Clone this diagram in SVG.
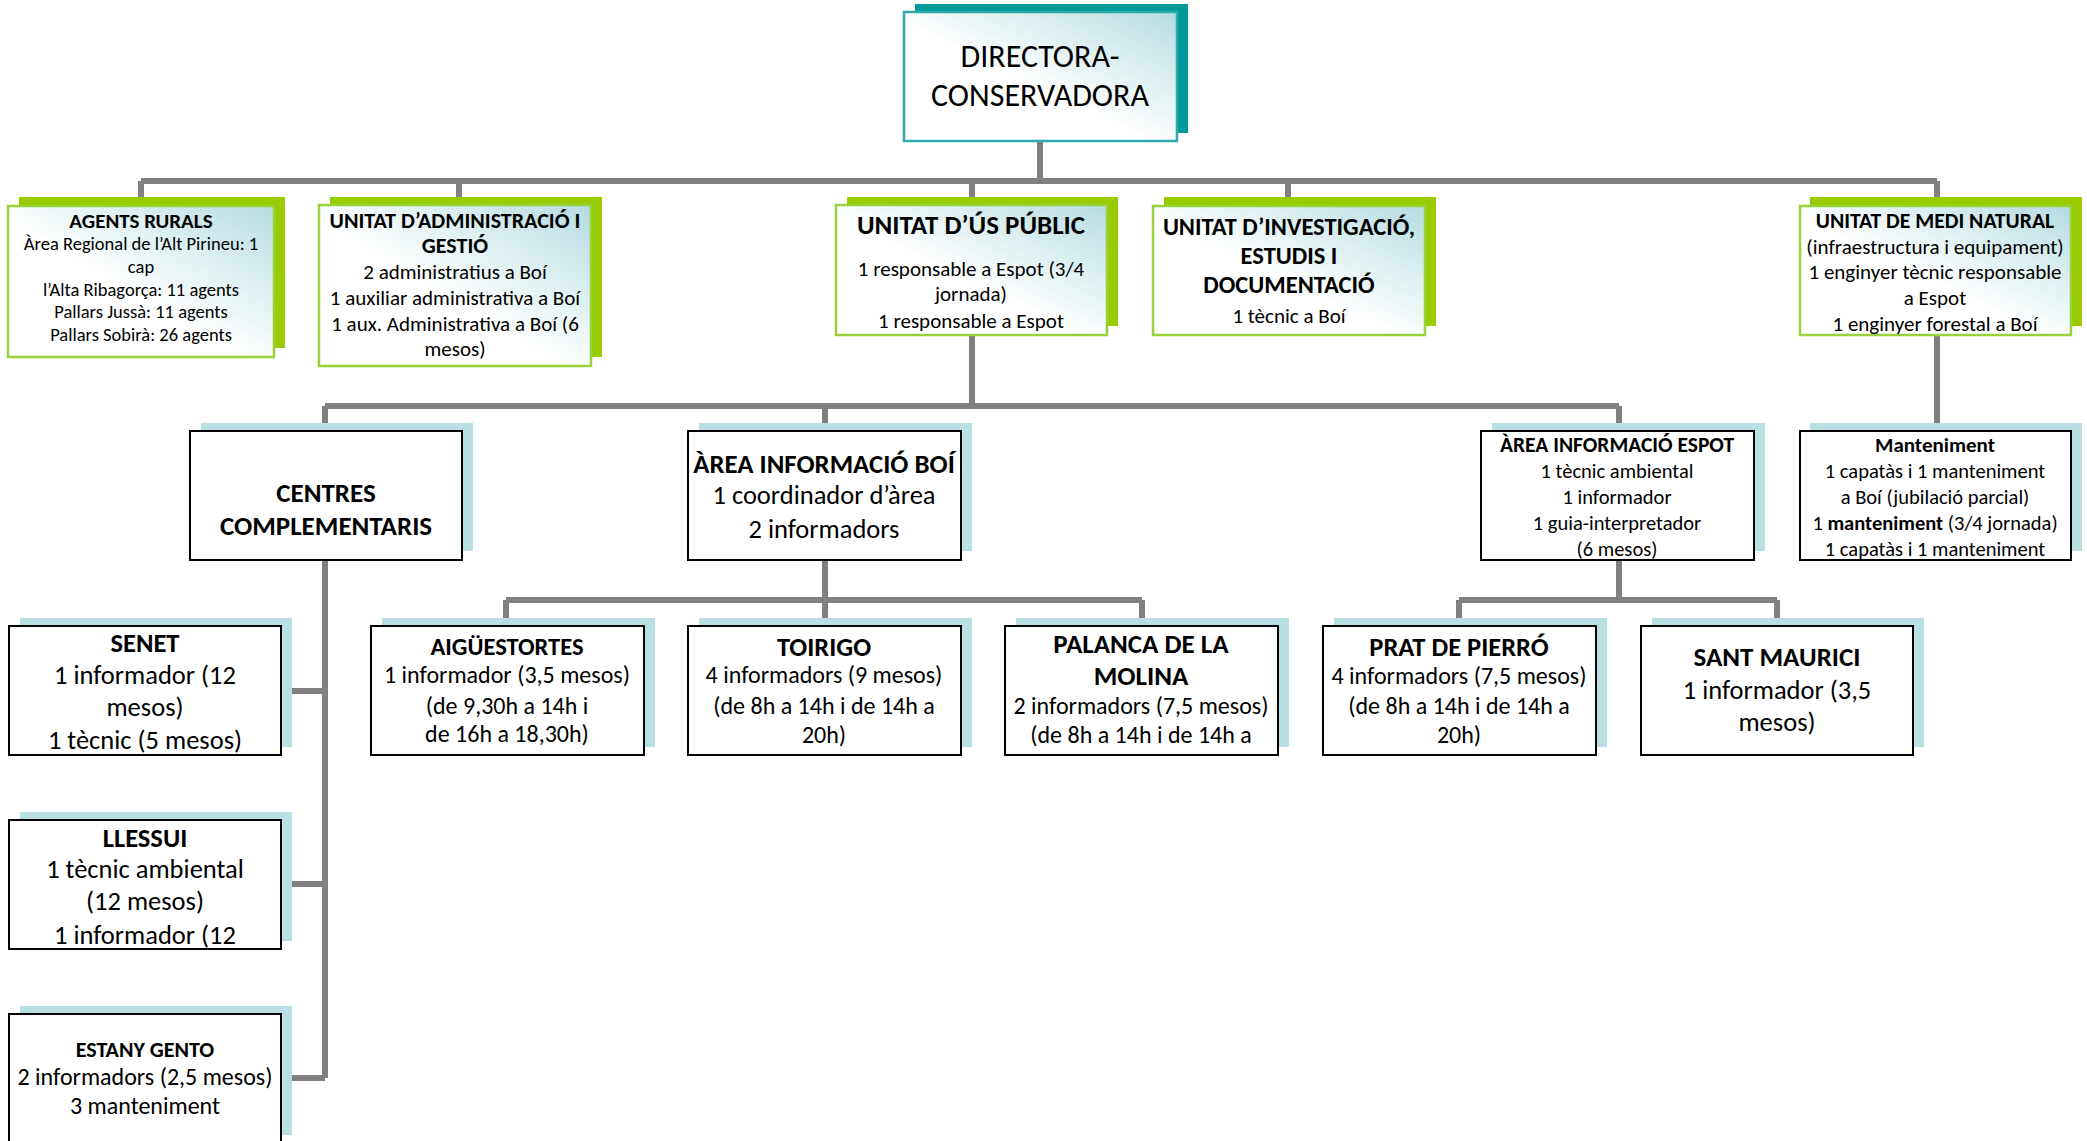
<svg xmlns="http://www.w3.org/2000/svg" width="2087" height="1141" viewBox="0 0 2087 1141">
<defs>
<linearGradient id="g" x1="0" y1="1" x2="1" y2="0">
<stop offset="0" stop-color="#ffffff"/>
<stop offset="0.45" stop-color="#ffffff"/>
<stop offset="1" stop-color="#b4dce0"/>
</linearGradient>
<style>
text{font-family:Carlito,"Liberation Sans",Arial,sans-serif;text-anchor:middle;fill:#000}
.b{font-weight:bold}
.con{stroke:#808080;stroke-width:6;fill:none}
.ds{fill:#009999}
.db{fill:url(#g);stroke:#2eaaaa;stroke-width:2.5}
.gs{fill:#99cc00}
.gb{fill:url(#g);stroke:#99d13a;stroke-width:2.5}
.bs{fill:#b8e0e3}
.bb{fill:#ffffff;stroke:#000;stroke-width:2}
</style>
</defs>
<rect width="2087" height="1141" fill="#ffffff"/>
<g id="connectors">
<path class="con" d="M1040 141V181M141 181H1937M141 181V204M459 181V204M972 181V204M1288 181V204M1937 181V204"/>
<path class="con" d="M972 335V406M325 406H1619M325 406V428M825 406V428M1619 406V428M1937 335V428"/>
<path class="con" d="M325 560V1078M282 691H325M282 884H325M282 1078H325"/>
<path class="con" d="M825 560V600M506 600H1142M506 600V620M825 600V620M1142 600V620"/>
<path class="con" d="M1619 560V600M1459 600H1777M1459 600V620M1777 600V620"/>
</g>
<g id="director">
<rect class="ds" x="915" y="4" width="273" height="129"/>
<rect class="db" x="904" y="12" width="273" height="129"/>
<text x="1040" y="67" font-size="32">DIRECTORA-</text>
<text x="1040" y="106" font-size="32">CONSERVADORA</text>
</g>
<g id="agents-rurals">
<rect class="gs" x="19" y="197" width="266" height="151"/>
<rect class="gb" x="8" y="206" width="266" height="151"/>
<text x="141" y="228" font-size="21" class="b">AGENTS RURALS</text>
<text x="141" y="250" font-size="18.5">Àrea Regional de l’Alt Pirineu: 1</text>
<text x="141" y="273" font-size="18.5">cap</text>
<text x="141" y="296" font-size="18.5">l’Alta Ribagorça: 11 agents</text>
<text x="141" y="318" font-size="18.5">Pallars Jussà: 11 agents</text>
<text x="141" y="341" font-size="18.5">Pallars Sobirà: 26 agents</text>
</g>
<g id="unitat-administracio">
<rect class="gs" x="330" y="197" width="272" height="160"/>
<rect class="gb" x="319" y="205" width="272" height="161"/>
<text x="455" y="228" font-size="22" class="b">UNITAT D’ADMINISTRACIÓ I</text>
<text x="455" y="253" font-size="22" class="b">GESTIÓ</text>
<text x="455" y="279" font-size="21">2 administratius a Boí</text>
<text x="455" y="305" font-size="21">1 auxiliar administrativa a Boí</text>
<text x="455" y="331" font-size="21">1 aux. Administrativa a Boí (6</text>
<text x="455" y="356" font-size="21">mesos)</text>
</g>
<g id="unitat-us-public">
<rect class="gs" x="847" y="197" width="271" height="129"/>
<rect class="gb" x="836" y="205" width="271" height="130"/>
<text x="971" y="234" font-size="27" class="b">UNITAT D’ÚS PÚBLIC</text>
<text x="971" y="276" font-size="21">1 responsable a Espot (3/4</text>
<text x="971" y="301" font-size="21">jornada)</text>
<text x="971" y="328" font-size="21">1 responsable a Espot</text>
</g>
<g id="unitat-investigacio">
<rect class="gs" x="1164" y="197" width="272" height="129"/>
<rect class="gb" x="1153" y="206" width="272" height="129"/>
<text x="1289" y="235" font-size="24.5" class="b">UNITAT D’INVESTIGACIÓ,</text>
<text x="1289" y="264" font-size="24.5" class="b">ESTUDIS I</text>
<text x="1289" y="293" font-size="24.5" class="b">DOCUMENTACIÓ</text>
<text x="1289" y="323" font-size="21">1 tècnic a Boí</text>
</g>
<g id="unitat-medi-natural">
<rect class="gs" x="1810" y="197" width="272" height="129"/>
<rect class="gb" x="1800" y="206" width="271" height="129"/>
<text x="1935" y="228" font-size="21.7" class="b">UNITAT DE MEDI NATURAL</text>
<text x="1935" y="254" font-size="21">(infraestructura i equipament)</text>
<text x="1935" y="279" font-size="21">1 enginyer tècnic responsable</text>
<text x="1935" y="305" font-size="21">a Espot</text>
<text x="1935" y="331" font-size="21">1 enginyer forestal a Boí</text>
</g>
<g id="centres-complementaris">
<rect class="bs" x="201" y="423" width="272" height="128"/>
<rect class="bb" x="190" y="431" width="272" height="129"/>
<text x="326" y="502" font-size="27" class="b">CENTRES</text>
<text x="326" y="535" font-size="27" class="b">COMPLEMENTARIS</text>
</g>
<g id="area-informacio-boi">
<rect class="bs" x="699" y="423" width="273" height="128"/>
<rect class="bb" x="688" y="431" width="273" height="129"/>
<text x="824" y="473" font-size="26.8" class="b">ÀREA INFORMACIÓ BOÍ</text>
<text x="824" y="504" font-size="26.5">1 coordinador d’àrea</text>
<text x="824" y="538" font-size="26.5">2 informadors</text>
</g>
<g id="area-informacio-espot">
<rect class="bs" x="1492" y="423" width="273" height="128"/>
<rect class="bb" x="1481" y="431" width="273" height="129"/>
<text x="1617" y="452" font-size="21.5" class="b">ÀREA INFORMACIÓ ESPOT</text>
<text x="1617" y="478" font-size="20.5">1 tècnic ambiental</text>
<text x="1617" y="504" font-size="20.5">1 informador</text>
<text x="1617" y="530" font-size="20.5">1 guia-interpretador</text>
<text x="1617" y="556" font-size="20.5">(6 mesos)</text>
</g>
<g id="manteniment">
<rect class="bs" x="1810" y="423" width="272" height="128"/>
<rect class="bb" x="1800" y="431" width="271" height="129"/>
<text x="1935" y="452" font-size="21" class="b">Manteniment</text>
<text x="1935" y="478" font-size="20.5">1 capatàs i 1 manteniment</text>
<text x="1935" y="504" font-size="20.5">a Boí (jubilació parcial)</text>
<text x="1935" y="530" font-size="20.5">1 <tspan class="b">manteniment</tspan> (3/4 jornada)</text>
<text x="1935" y="556" font-size="20.5">1 capatàs i 1 manteniment</text>
</g>
<g id="senet">
<rect class="bs" x="20" y="618" width="272" height="129"/>
<rect class="bb" x="9" y="626" width="272" height="129"/>
<text x="145" y="652" font-size="26.5" class="b">SENET</text>
<text x="145" y="684" font-size="26.5">1 informador (12</text>
<text x="145" y="716" font-size="26.5">mesos)</text>
<text x="145" y="749" font-size="26.5">1 tècnic (5 mesos)</text>
</g>
<g id="llessui">
<rect class="bs" x="20" y="812" width="272" height="129"/>
<rect class="bb" x="9" y="820" width="272" height="129"/>
<text x="145" y="847" font-size="26.5" class="b">LLESSUI</text>
<text x="145" y="878" font-size="26.5">1 tècnic ambiental</text>
<text x="145" y="910" font-size="26.5">(12 mesos)</text>
<text x="145" y="944" font-size="26.5">1 informador (12</text>
</g>
<g id="estany-gento">
<rect class="bs" x="20" y="1006" width="272" height="129"/>
<rect class="bb" x="9" y="1014" width="272" height="135"/>
<text x="145" y="1057" font-size="22" class="b">ESTANY GENTO</text>
<text x="145" y="1085" font-size="24">2 informadors (2,5 mesos)</text>
<text x="145" y="1114" font-size="24">3 manteniment</text>
</g>
<g id="aiguestortes">
<rect class="bs" x="382" y="618" width="273" height="129"/>
<rect class="bb" x="371" y="626" width="273" height="129"/>
<text x="507" y="655" font-size="24.5" class="b">AIGÜESTORTES</text>
<text x="507" y="683" font-size="24">1 informador (3,5 mesos)</text>
<text x="507" y="714" font-size="24">(de 9,30h a 14h i</text>
<text x="507" y="742" font-size="24">de 16h a 18,30h)</text>
</g>
<g id="toirigo">
<rect class="bs" x="699" y="618" width="273" height="129"/>
<rect class="bb" x="688" y="626" width="273" height="129"/>
<text x="824" y="656" font-size="26.5" class="b">TOIRIGO</text>
<text x="824" y="683" font-size="24">4 informadors (9 mesos)</text>
<text x="824" y="714" font-size="24">(de 8h a 14h i de 14h a</text>
<text x="824" y="743" font-size="24">20h)</text>
</g>
<g id="palanca-de-la-molina">
<rect class="bs" x="1016" y="618" width="273" height="129"/>
<rect class="bb" x="1005" y="626" width="273" height="129"/>
<text x="1141" y="653" font-size="27" class="b">PALANCA DE LA</text>
<text x="1141" y="685" font-size="27" class="b">MOLINA</text>
<text x="1141" y="714" font-size="24">2 informadors (7,5 mesos)</text>
<text x="1141" y="743" font-size="24">(de 8h a 14h i de 14h a</text>
</g>
<g id="prat-de-pierro">
<rect class="bs" x="1334" y="618" width="273" height="129"/>
<rect class="bb" x="1323" y="626" width="273" height="129"/>
<text x="1459" y="656" font-size="26.5" class="b">PRAT DE PIERRÓ</text>
<text x="1459" y="684" font-size="24">4 informadors (7,5 mesos)</text>
<text x="1459" y="714" font-size="24">(de 8h a 14h i de 14h a</text>
<text x="1459" y="743" font-size="24">20h)</text>
</g>
<g id="sant-maurici">
<rect class="bs" x="1652" y="618" width="272" height="129"/>
<rect class="bb" x="1641" y="626" width="272" height="129"/>
<text x="1777" y="666" font-size="27" class="b">SANT MAURICI</text>
<text x="1777" y="699" font-size="26.5">1 informador (3,5</text>
<text x="1777" y="731" font-size="26.5">mesos)</text>
</g>
</svg>
